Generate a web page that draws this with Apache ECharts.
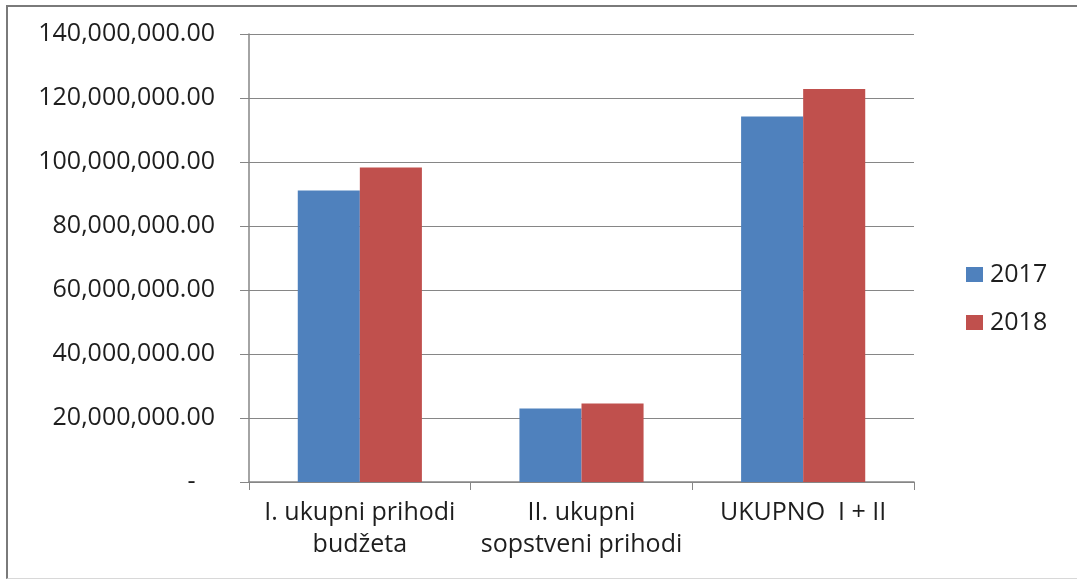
<!DOCTYPE html>
<html>
<head>
<meta charset="utf-8">
<script src="https://cdn.jsdelivr.net/npm/echarts@6/dist/echarts.min.js"></script>
<style>
html,body{margin:0;padding:0;background:#fff;}
#frame{position:absolute;left:6px;top:5px;width:1071px;height:574px;border-left:2px solid #7a7a7a;border-top:2px solid #7a7a7a;border-bottom:1px solid #d8d8d8;box-sizing:border-box;}
#chart{position:absolute;left:0;top:0;width:1077px;height:582px;}
</style>
</head>
<body>
<div id="frame"></div>
<div id="chart"></div>
<script>
const categories = ['I. ukupni prihodi\nbudžeta', 'II. ukupni\nsopstveni prihodi', 'UKUPNO  I + II'];
const seriesNames = ['2017', '2018'];
const values2017 = [91100000, 23000000, 114200000];
const values2018 = [98300000, 24500000, 122800000];
const yTicks = { min: 0, max: 140000000, interval: 20000000 };

const FONT = '"Open Sans", "DejaVu Sans", sans-serif';
const chart = echarts.init(document.getElementById('chart'));
chart.setOption({
  animation: false,
  color: ['#4F81BD', '#C0504D'],
  textStyle: { fontFamily: FONT },
  grid: { left: 249, right: 163, top: 34, bottom: 100 },
  legend: {
    orient: 'vertical',
    left: 961,
    top: 257,
    itemWidth: 17,
    itemHeight: 15,
    itemGap: 23,
    icon: 'rect',
    textStyle: { fontSize: 25, lineHeight: 25, color: '#1e1e1e', fontFamily: FONT, padding: [0, 0, 0, 2] },
    data: seriesNames
  },
  xAxis: {
    type: 'category',
    data: categories,
    axisLine: { lineStyle: { color: '#868686', width: 1.5 } },
    axisTick: { show: true, length: 8, lineStyle: { color: '#868686' } },
    axisLabel: { fontSize: 25, color: '#1e1e1e', lineHeight: 32, margin: 15, fontFamily: FONT, interval: 0 },
    splitLine: { show: false }
  },
  yAxis: {
    type: 'value',
    min: yTicks.min,
    max: yTicks.max,
    interval: yTicks.interval,
    axisLine: { show: true, lineStyle: { color: '#868686', width: 1.5 } },
    axisTick: { show: true, length: 9, lineStyle: { color: '#868686' } },
    splitLine: { lineStyle: { color: '#868686', width: 1.2 } },
    axisLabel: {
      fontSize: 25, color: '#1e1e1e', margin: 34, fontFamily: FONT,
      formatter: v => v === 0 ? '-   ' : v.toLocaleString('en-US', { minimumFractionDigits: 2, maximumFractionDigits: 2 })
    }
  },
  series: [
    { name: seriesNames[0], type: 'bar', data: values2017, barGap: '0%', barCategoryGap: '44%' },
    { name: seriesNames[1], type: 'bar', data: values2018, barGap: '0%', barCategoryGap: '44%' }
  ]
});
</script>
</body>
</html>
